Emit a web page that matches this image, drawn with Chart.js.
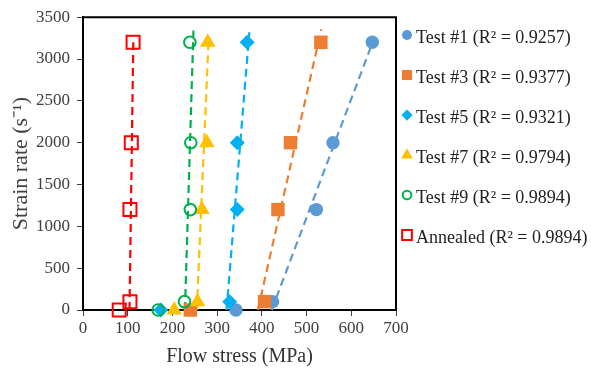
<!DOCTYPE html>
<html>
<head>
<meta charset="utf-8">
<script src="https://cdn.jsdelivr.net/npm/chart.js@4.4.1/dist/chart.umd.min.js"></script>
<style>
  html, body { margin: 0; padding: 0; background: #fff; }
</style>
</head>
<body>
<canvas id="myChart" width="591" height="369"></canvas>
<script>
// strain rate (1/s) of each test, same for every series
var rates = [0, 100, 1200, 2000, 3200];

// flow stress (MPa) at each strain rate
var test1 = [342, 424, 522, 559, 647];
var test3 = [240, 406, 436, 464, 532];
var test5 = [174, 328, 345, 345, 367];
var test7 = [204, 256, 266, 277, 279];
var test9 = [168, 227, 240, 241, 239];
var annealed = [81, 105, 105, 108, 112];

var names = [
  'Test #1 (R² = 0.9257)',
  'Test #3 (R² = 0.9377)',
  'Test #5 (R² = 0.9321)',
  'Test #7 (R² = 0.9794)',
  'Test #9 (R² = 0.9894)',
  'Annealed (R² = 0.9894)'
];

// linear trend lines: [start, end] in stress and in strain rate
var trendStress = [[422, 647], [391, 533], [321, 372], [254.5, 281], [228, 247], [104, 112.5]];
var trendRate = [[0, 3190], [0, 3355], [0, 3320], [0, 3250], [0, 3340], [0, 3200]];

var xTicks = [0, 100, 200, 300, 400, 500, 600, 700];
var yTicks = [0, 500, 1000, 1500, 2000, 2500, 3000, 3500];

var series = [test1, test3, test5, test7, test9, annealed];
var looks = [
  {color: '#5B9BD5', style: 'circle', r: 6.7, fill: true},
  {color: '#ED7D31', style: 'rect', r: 9.5, fill: true},
  {color: '#00B0F0', style: 'rectRot', r: 7.5, fill: true},
  {color: '#FFC000', style: 'triangle', r: 9, fill: true},
  {color: '#00B050', style: 'circle', r: 5.8, fill: false},
  {color: '#FF0000', style: 'rect', r: 9.2, fill: false}
];

var datasets = [];
series.forEach(function(xs, i) {
  var lk = looks[i];
  datasets.push({
    label: names[i],
    data: xs.map(function(x, j) { return {x: x, y: rates[j]}; }),
    pointStyle: lk.style,
    pointRadius: lk.r,
    pointHoverRadius: lk.r,
    pointBackgroundColor: lk.fill ? lk.color : 'rgba(0,0,0,0)',
    pointBorderColor: lk.color,
    pointBorderWidth: lk.fill ? 0 : 2,
    showLine: false,
    clip: false,
    order: 6 - i // earlier tests sit underneath
  });
  datasets.push({
    label: 'trend ' + i,
    data: [
      {x: trendStress[i][0], y: trendRate[i][0]},
      {x: trendStress[i][1], y: trendRate[i][1]}
    ],
    showLine: true,
    borderColor: lk.color,
    borderWidth: 2.2,
    borderDash: [8, 5],
    pointRadius: 0,
    clip: false,
    order: 20 + i
  });
});

// top and right edges of the plot box
var plotFrame = {
  id: 'plotFrame',
  beforeDatasetsDraw: function(chart) {
    var a = chart.chartArea, ctx = chart.ctx;
    ctx.save();
    ctx.strokeStyle = '#000';
    ctx.lineWidth = 2;
    ctx.beginPath();
    ctx.moveTo(a.left, a.top);
    ctx.lineTo(a.right, a.top);
    ctx.lineTo(a.right, a.bottom);
    ctx.stroke();
    ctx.restore();
  }
};

// legend on the right, one row per test
var sideLegend = {
  id: 'sideLegend',
  afterDraw: function(chart) {
    var ctx = chart.ctx;
    ctx.save();
    ctx.font = '18px "Liberation Serif", "Times New Roman", serif';
    ctx.textBaseline = 'alphabetic';
    names.forEach(function(name, i) {
      var lk = looks[i];
      var y = 35 + i * 40;
      ctx.fillStyle = lk.fill ? lk.color : 'rgba(0,0,0,0)';
      ctx.strokeStyle = lk.color;
      ctx.lineWidth = 2;
      Chart.helpers.drawPoint(ctx, {
        pointStyle: lk.style,
        radius: lk.r * 0.75,
        rotation: 0,
        borderWidth: lk.fill ? 0 : 2
      }, 407, y);
      ctx.fillStyle = '#222';
      ctx.fillText(name, 416, y + 8);
    });
    ctx.restore();
  }
};

function plainNumber(v) { return String(v); }

Chart.defaults.font.family = '"Liberation Serif", "Times New Roman", serif';
Chart.defaults.color = '#404040';

var ctx = document.getElementById('myChart').getContext('2d');
var chart = new Chart(ctx, {
  type: 'scatter',
  data: {datasets: datasets},
  plugins: [plotFrame, sideLegend],
  options: {
    responsive: false,
    animation: false,
    layout: {padding: {left: 5, right: 195, top: 16, bottom: 0}},
    plugins: {
      legend: {display: false},
      tooltip: {enabled: false}
    },
    scales: {
      x: {
        type: 'linear',
        min: 0,
        max: 700,
        afterBuildTicks: function(scale) {
          scale.ticks = xTicks.map(function(v) { return {value: v}; });
        },
        afterFit: function(scale) { scale.height = 59; },
        ticks: {font: {size: 17}, padding: 2, color: '#404040', callback: plainNumber},
        grid: {drawOnChartArea: false, tickLength: 6, color: '#404040'},
        border: {display: true, color: '#000', width: 2},
        title: {
          display: true,
          text: 'Flow stress (MPa)',
          font: {size: 20},
          color: '#333',
          padding: {top: 0, bottom: 0}
        }
      },
      y: {
        type: 'linear',
        min: 0,
        max: 3500,
        afterBuildTicks: function(scale) {
          scale.ticks = yTicks.map(function(v) { return {value: v}; });
        },
        afterFit: function(scale) { scale.width = 78; },
        ticks: {font: {size: 17}, padding: 7, color: '#404040', callback: plainNumber},
        grid: {drawOnChartArea: false, tickLength: 6, color: '#404040'},
        border: {display: true, color: '#000', width: 2},
        title: {
          display: true,
          text: 'Strain rate (s⁻¹)',
          font: {size: 22},
          color: '#404040',
          padding: {top: 3, bottom: 0}
        }
      }
    }
  }
});
</script>
</body>
</html>
